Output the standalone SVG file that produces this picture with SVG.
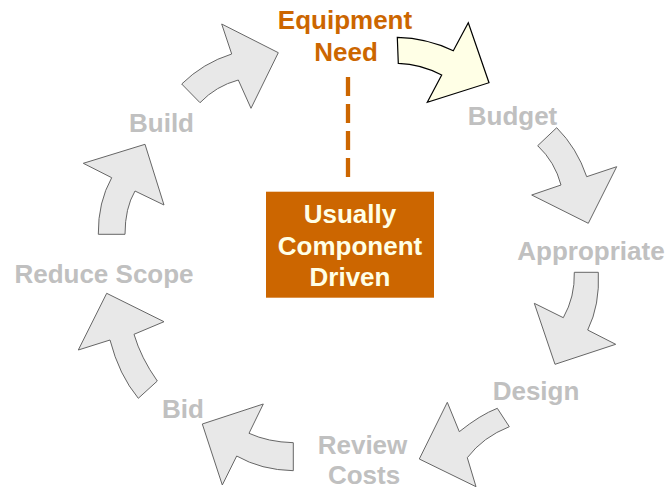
<svg xmlns="http://www.w3.org/2000/svg" width="669" height="489" viewBox="0 0 669 489">
<style>
.arr{fill:#E8E8E8;stroke:#666666;stroke-width:1;stroke-linejoin:miter}
.cur{fill:#FFFFE6;stroke:#000000;stroke-width:1.2}
.lbl{font-family:"Liberation Sans",Arial,sans-serif;font-weight:bold;font-size:26px;fill:#C0C0C0;text-anchor:middle}
.or{font-family:"Liberation Sans",Arial,sans-serif;font-weight:bold;font-size:26px;fill:#CC6600;text-anchor:middle}
.box{font-family:"Liberation Sans",Arial,sans-serif;font-weight:bold;font-size:26px;fill:#FFFFE6;text-anchor:middle}
</style>
<rect width="669" height="489" fill="#FFFFFF"/>
<g id="connectors">
<path id="a-build-equip" class="arr" d="M181.7,84 Q203,63 231.7,54 L221.7,24 L278.3,52.7 L251,108.3 L238.3,80 Q216,86 200,102.7 Z"/>
<path id="a-equip-budget" class="cur" d="M397.3,37.3 Q427,38 453.3,50.7 L468.3,22.7 L489,82.7 L427.3,102.3 L441.7,75 Q421,64 398.3,63.3 Z"/>
<path id="a-budget-approp" class="arr" d="M556.7,127.7 Q577,148 586.7,176.7 L616.7,166.7 L588.3,223.3 L531.7,195 L561,185 Q555,162 537.7,145.7 Z"/>
<path id="a-approp-design" class="arr" d="M598.3,272.3 Q600,305 587.7,330 L615.7,344.3 L555,364.3 L534.3,303.3 L563.3,317.7 Q575,297 574.3,272.3 Z"/>
<path id="a-design-review" class="arr" d="M509.3,426.7 Q483,437 467.3,457.7 L476,486.7 L419.3,459 L447.3,402.3 L459.3,431.7 Q480,415 497.3,408.3 Z"/>
<path id="a-review-bid" class="arr" d="M293.3,470.7 Q261,470 236.7,456 L222.3,485 L202.3,424 L263.3,404 L249,433.3 Q268,442 293.3,442.7 Z"/>
<path id="a-bid-reduce" class="arr" d="M157.3,381 Q141,358 134,334.3 L164,321.7 L106.7,293.3 L78.3,350 L110,340 Q119,375 138.3,398.3 Z"/>
<path id="a-reduce-build" class="arr" d="M125,234.3 Q125,208 135,191 L164,205 L145,144.3 L83.3,163.3 L111.7,177.7 Q98,202 98.3,234.3 Z"/>
<line id="dash" x1="348" y1="77" x2="348" y2="177" stroke="#CC6600" stroke-width="4.3" stroke-dasharray="19 8"/>
</g>
<g id="n-equipment"><text class="or" x="345" y="28.5"><tspan x="345" y="28.5">Equipment</tspan><tspan x="346" y="61">Need</tspan></text></g>
<g id="n-budget"><text class="lbl" x="512.5" y="125">Budget</text></g>
<g id="n-appropriate"><text class="lbl" x="591" y="260">Appropriate</text></g>
<g id="n-design"><text class="lbl" x="536" y="400">Design</text></g>
<g id="n-review"><text class="lbl" x="362.5" y="454"><tspan x="362.5" y="454">Review</tspan><tspan x="364" y="484">Costs</tspan></text></g>
<g id="n-bid"><text class="lbl" x="183" y="418">Bid</text></g>
<g id="n-reduce"><text class="lbl" x="104" y="283">Reduce Scope</text></g>
<g id="n-build"><text class="lbl" x="161.5" y="131.5">Build</text></g>
<g id="n-center">
<rect x="266" y="191.7" width="168" height="106" fill="#CC6600"/>
<text class="box" x="350" y="223"><tspan x="350" y="223">Usually</tspan><tspan x="350" y="254.5">Component</tspan><tspan x="350" y="286">Driven</tspan></text>
</g>
</svg>
